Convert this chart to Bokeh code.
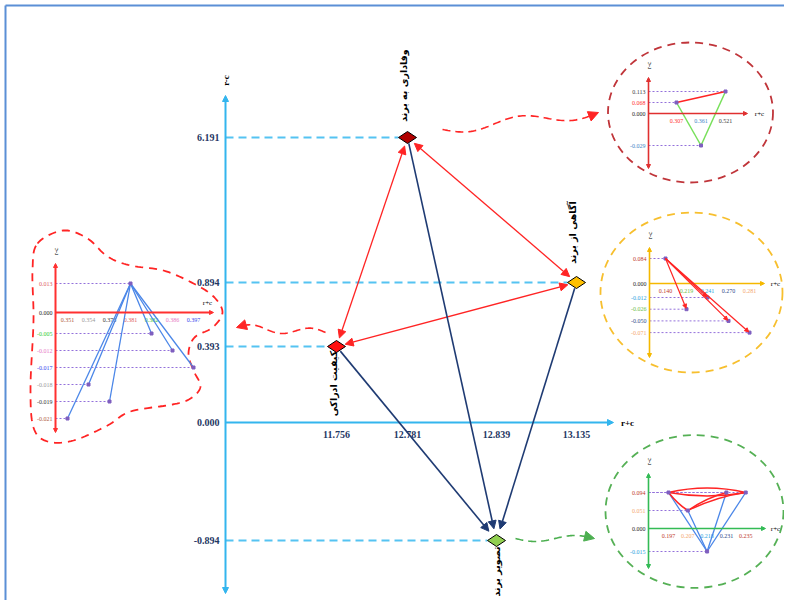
import numpy as np
from bokeh.plotting import figure
from bokeh.models import Range1d, Arrow, NormalHead
from bokeh.embed import file_html
from bokeh.resources import INLINE
from bokeh.core.properties import value

# ---------------- data: main DEMATEL dimensions ----------------
node_names = ["وفاداری به برند", "آگاهی از برند", "کیفیت ادراکی", "تصویر برند"]
node_rpc = [12.781, 13.135, 11.756, 12.839]      # r+c
node_rmc = [6.191, 0.894, 0.393, -0.894]         # r-c
two_way_links = [(2, 0), (0, 1), (1, 2)]
one_way_links = [(2, 3), (0, 3), (1, 3)]

# ---------------- data: sub-criteria of each dimension ----------------
loyalty_rpc = [0.521, 0.307, 0.361]
loyalty_rmc = [0.113, 0.068, -0.029]
awareness_rpc = [0.140, 0.241, 0.219, 0.270, 0.281]
awareness_rmc = [0.084, -0.012, -0.026, -0.050, -0.071]
quality_rpc = [0.381, 0.382, 0.386, 0.397, 0.354, 0.373, 0.351]
quality_rmc = [0.013, -0.005, -0.012, -0.017, -0.018, -0.019, -0.021]
image_rpc = [0.197, 0.207, 0.218, 0.231, 0.235]
image_rmc = [0.094, 0.051, -0.015, 0.094, 0.094]

loyalty_red = [(1, 0)]
loyalty_green = [(1, 2), (0, 2)]
awareness_red = [(0, 1), (0, 2), (0, 3), (0, 4)]
quality_blue = [(0, i) for i in range(1, 7)]
image_blue = [(2, 0), (2, 1), (2, 3), (2, 4)]
image_red = [(0, 4, -9), (0, 4, 7), (1, 4, -5), (1, 3, -4), (0, 1, 3)]

# ---------------- styles ----------------
node_colors = ["#b00000", "#ffc000", "#ff1010", "#92d050"]
loyalty_colors = ["#404040", "#ff3030", "#3d85c6"]
awareness_colors = ["#c0392b", "#29a3e0", "#6cc04a", "#2e4a8a", "#f4a870"]
quality_colors = ["#e06060", "#33cc33", "#e879c6", "#3344ee", "#999999", "#333333", "#b05a3a"]
image_colors = ["#c0392b", "#f4a870", "#29a3e0", "#2e4a8a", "#c0392b"]

NAVY = "#1f3864"
AXIS = "#33b5ee"
GUIDE = "#55c3f2"
RED = "#ff2424"
SERIF = value("Liberation Serif")
SANS = value("DejaVu Sans")

p = figure(width=784, height=600, x_range=Range1d(0, 784), y_range=Range1d(600, 0),
           output_backend="svg", toolbar_location=None, min_border=0,
           x_axis_type=None, y_axis_type=None)
p.outline_line_color = None
p.background_fill_color = "white"


def arrow(x0, y0, x1, y1, color, width=1.2, size=7, start=False, end=True, alpha=1.0):
    def head():
        return NormalHead(size=size, fill_color=color, line_color=color, line_width=1)
    p.add_layout(Arrow(x_start=x0, y_start=y0, x_end=x1, y_end=y1,
                       start=head() if start else None, end=head() if end else None,
                       line_color=color, line_width=width, line_alpha=alpha))


def shorten(a, b, da, db):
    a = np.array(a, float); b = np.array(b, float)
    d = b - a; u = d / np.hypot(*d)
    return a + u * da, b - u * db


def text(x, y, s, color="black", size="10px", font=SERIF, align="center",
         baseline="middle", angle=0.0, style="normal"):
    p.text(x=[x], y=[y], text=[s], text_color=color, text_font_size=size,
           text_font=font, text_align=align, text_baseline=baseline,
           angle=angle, text_font_style=style)


# frame
p.line([5, 5], [600, 5], line_color="#5b8fd6", line_width=2)
p.line([5, 784], [5, 5], line_color="#5b8fd6", line_width=2)

# ---------------- main ordinal scales ----------------
MAIN_X_PX = [336, 407, 496, 576]
MAIN_Y_PX = [540, 422, 346, 282, 137]
xs_vals = sorted(set(node_rpc))
ys_vals = sorted(set(node_rmc) | {0.0})


def mx(v):
    return float(np.interp(v, xs_vals, MAIN_X_PX))


def my(v):
    return float(np.interp(v, ys_vals, MAIN_Y_PX))


AX_X, AX_Y = 225, my(0.0)
nx = [mx(v) for v in node_rpc]
ny = [my(v) for v in node_rmc]

# main axes
arrow(AX_X, 593, AX_X, 95, AXIS, width=2, size=6, start=True)
arrow(AX_X, AX_Y, 613, AX_Y, AXIS, width=2, size=6)
text(AX_X, 80, "r-c", size="9px", angle=np.pi / 2, style="bold")
text(627, AX_Y, "r+c", size="9px", style="bold")

# tick labels
for v in ys_vals:
    text(AX_X - 6, my(v), "%.3f" % v, color=NAVY, align="right", style="bold")
for v in xs_vals:
    text(mx(v), AX_Y + 12, "%.3f" % v, color=NAVY, style="bold")

# guides
for x, y in zip(nx, ny):
    p.line([AX_X, x - 9], [y, y], line_color=GUIDE, line_width=2, line_dash="8 5")

# links
for a, b in two_way_links:
    s, e = shorten((nx[a], ny[a]), (nx[b], ny[b]), 9, 9)
    arrow(s[0], s[1], e[0], e[1], RED, width=1.3, size=8, start=True)
for a, b in one_way_links:
    s, e = shorten((nx[a], ny[a]), (nx[b], ny[b]), 6, 12)
    arrow(s[0], s[1], e[0], e[1], "#1f3b73", width=1.6, size=8)

# nodes
p.scatter(nx, ny, marker="diamond", size=18, angle=np.pi / 2,
          fill_color=node_colors, line_color="black", line_width=1)

LABEL_DX = [-4, -4, -3, 0]
LABEL_DY = [-52, -50, 37, 31]
for name, x, y, dx, dy in zip(node_names, nx, ny, LABEL_DX, LABEL_DY):
    text(x + dx, y + dy, name, size="9.5px", font=SANS, angle=np.pi / 2, style="bold")


# ---------------- wavy connectors ----------------
def wave(S, E, cycles, amp, color):
    t = np.linspace(0, 1, 90)
    S = np.array(S, float); E = np.array(E, float)
    d = E - S; u = d / np.hypot(*d); nrm = np.array([-u[1], u[0]])
    off = amp * np.sin(2 * np.pi * cycles * t)
    pts = S[None, :] + t[:, None] * d[None, :] + off[:, None] * nrm[None, :]
    p.line(pts[:-4, 0], pts[:-4, 1], line_color=color, line_width=1.6, line_dash="8 5")
    arrow(pts[-6, 0], pts[-6, 1], pts[-1, 0], pts[-1, 1], color, width=1, size=10, alpha=0)


wave((nx[0] + 35, ny[0] - 8), (598, 112), 1.5, 5, RED)
wave((nx[2] - 11, ny[2] - 14), (236, 327), 1.5, 3.5, RED)
wave((nx[3] + 19, ny[3] - 2), (594, 538), 1.0, 3, "#4caf50")


# ---------------- insets ----------------
def ordinal_x(vals, first, step):
    u = sorted(set(vals))
    return [first + u.index(v) * step for v in vals]


def ordinal_y(vals, oy, up, gap, down):
    pos = sorted(set(v for v in vals if v > 0), reverse=True)
    neg = sorted(set(v for v in vals if v < 0), reverse=True)
    out = []
    for v in vals:
        if v > 0:
            out.append(oy - (len(pos) - pos.index(v)) * up)
        elif v < 0:
            out.append(oy + gap + neg.index(v) * down)
        else:
            out.append(oy)
    return out


def inset(rpc, rmc, colors, cfg):
    ox, oy = cfg["origin"]
    px = ordinal_x(rpc, cfg["x_first"], cfg["x_step"])
    py = ordinal_y(rmc, oy, cfg["up"], cfg["gap"], cfg["down"])
    ac = cfg["axis_color"]
    arrow(ox, cfg["y_bottom"], ox, cfg["y_top"], ac, width=cfg["axis_w"], size=4, start=True)
    arrow(ox, oy, cfg["x_end"], oy, ac, width=cfg["axis_w"], size=4)
    text(ox, cfg["y_top"] - 12, "r-c", size="7px", angle=np.pi / 2)
    text(cfg["xlab"][0], cfg["xlab"][1], "r+c", size="7px")
    for x, y in zip(px, py):
        p.line([ox, x], [y, y], line_color="#9370db", line_width=1, line_dash="2 2")
    seen = set()
    for v, y, c in zip(rmc, py, colors):
        if v not in seen:
            seen.add(v)
            text(ox - 3, y, "%.3f" % v, color=c, size="6px", align="right")
    text(ox - 3, oy, "0.000", color="#222222", size="6px", align="right")
    seen = set()
    for v, x, c in zip(rpc, px, colors):
        if v not in seen:
            seen.add(v)
            text(x, oy + 7, "%.3f" % v, color=c, size="6px")
    return px, py


def ends(px, py, i, j):
    return [px[i], px[j]], [py[i], py[j]]


# ellipses around insets
p.ellipse(x=[690, 691, 694], y=[112, 292, 511], width=[165, 182, 178], height=[140, 160, 153],
          fill_color=None, line_color=["#c0353a", "#f7bf2e", "#55b055"], line_width=1.8,
          line_dash="8 6")

# blob around quality inset
BLOB = [(37, 243), (63, 230), (87, 238), (107, 256), (130, 265), (163, 270), (193, 283),
        (213, 296), (222, 312), (212, 327), (194, 337), (188, 353), (193, 370), (200, 386),
        (190, 398), (172, 404), (130, 411), (107, 425), (73, 440), (47, 441), (33, 427),
        (30, 387), (33, 320), (32, 270)]


def closed_spline(pts, n=12):
    P = np.array(pts, float); N = len(P); out = []
    for i in range(N):
        p0, p1, p2, p3 = P[i - 1], P[i], P[(i + 1) % N], P[(i + 2) % N]
        for t in np.linspace(0, 1, n, endpoint=False):
            out.append(0.5 * (2 * p1 + (-p0 + p2) * t + (2 * p0 - 5 * p1 + 4 * p2 - p3) * t * t
                              + (-p0 + 3 * p1 - 3 * p2 + p3) * t ** 3))
    out.append(out[0])
    return np.array(out)


bl = closed_spline(BLOB)
p.line(bl[:, 0], bl[:, 1], line_color=RED, line_width=1.8, line_dash="8 6")

# quality inset (left)
qx, qy = inset(quality_rpc, quality_rmc, quality_colors,
               dict(origin=(55, 312), x_first=67, x_step=21, up=29, gap=21, down=17,
                    axis_color="#ff3030", axis_w=2, y_top=263, y_bottom=432, x_end=213,
                    xlab=(207, 302)))
for i, j in quality_blue:
    xs, ys = ends(qx, qy, i, j)
    p.line(xs, ys, line_color="#4a86e8", line_width=1.3)
p.scatter(qx, qy, marker="square", size=3, color="#7f5fbf")

# loyalty inset (top right)
lx, ly = inset(loyalty_rpc, loyalty_rmc, loyalty_colors,
               dict(origin=(648, 113), x_first=676, x_step=24.5, up=11, gap=32, down=11,
                    axis_color="#e03030", axis_w=1.6, y_top=77, y_bottom=168, x_end=747,
                    xlab=(759, 113)))
for i, j in loyalty_red:
    xs, ys = ends(lx, ly, i, j)
    p.line(xs, ys, line_color=RED, line_width=1.5)
for i, j in loyalty_green:
    xs, ys = ends(lx, ly, i, j)
    p.line(xs, ys, line_color="#77e05a", line_width=1.5)
p.scatter(lx, ly, marker="square", size=3, color="#7f5fbf")

# awareness inset (middle right)
ax_, ay_ = inset(awareness_rpc, awareness_rmc, awareness_colors,
                 dict(origin=(649, 283), x_first=665, x_step=21, up=25, gap=14, down=11.7,
                      axis_color="#f5b800", axis_w=1.6, y_top=247, y_bottom=357, x_end=764,
                      xlab=(775, 283)))
for i, j in awareness_red:
    s, e = shorten((ax_[i], ay_[i]), (ax_[j], ay_[j]), 0, 1)
    arrow(s[0], s[1], e[0], e[1], RED, width=1.2, size=4)
p.scatter(ax_, ay_, marker="square", size=3, color="#7f5fbf")

# image inset (bottom right)
ix, iy = inset(image_rpc, image_rmc, image_colors,
               dict(origin=(648, 528), x_first=668, x_step=19.3, up=18, gap=23, down=11,
                    axis_color="#33bb55", axis_w=1.6, y_top=473, y_bottom=568, x_end=765,
                    xlab=(775, 528)))
for i, j in image_blue:
    xs, ys = ends(ix, iy, i, j)
    p.line(xs, ys, line_color="#4a86e8", line_width=1.3)
for i, j, bend in image_red:
    p.quadratic(x0=[ix[i]], y0=[iy[i]], x1=[ix[j]], y1=[iy[j]],
                cx=[(ix[i] + ix[j]) / 2], cy=[(iy[i] + iy[j]) / 2 + bend],
                line_color=RED, line_width=1.5)
p.scatter(ix, iy, marker="square", size=3, color="#7f5fbf")

open("out.html", "w").write(file_html(p, INLINE))
